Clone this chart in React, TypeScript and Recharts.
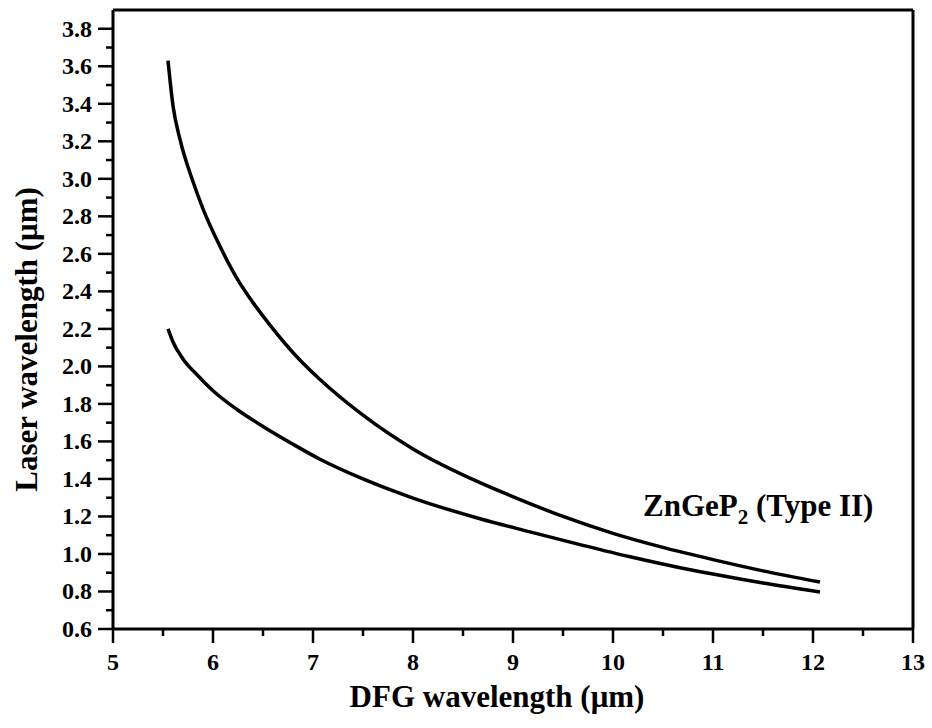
import React from "react";
import { LineChart, Line, XAxis, YAxis, ReferenceDot, ReferenceLine } from "recharts";

// upper curve (longer laser wavelength)
const upperDfg = [5.55, 5.6, 5.67, 5.79, 5.9, 6.07, 6.25, 6.4, 6.57, 6.84, 7.07, 7.5, 8.0, 8.67, 9.07, 9.5, 10.0, 10.5, 11.0, 11.5, 12.07];
const upperLaser = [3.63, 3.39, 3.21, 3.0, 2.84, 2.64, 2.46, 2.34, 2.22, 2.05, 1.93, 1.74, 1.56, 1.38, 1.29, 1.2, 1.11, 1.035, 0.97, 0.91, 0.85];

// lower curve
const lowerDfg = [5.55, 5.6, 5.7, 5.85, 6.0, 6.24, 6.5, 6.8, 7.07, 7.5, 8.0, 8.67, 9.17, 9.67, 10.17, 10.67, 11.0, 11.5, 12.07];
const lowerLaser = [2.2, 2.13, 2.04, 1.95, 1.87, 1.77, 1.68, 1.585, 1.505, 1.4, 1.298, 1.188, 1.118, 1.05, 0.985, 0.927, 0.893, 0.845, 0.797];

const xTicks = [5, 5.5, 6, 6.5, 7, 7.5, 8, 8.5, 9, 9.5, 10, 10.5, 11, 11.5, 12, 12.5, 13];
const xMajor = [5, 6, 7, 8, 9, 10, 11, 12, 13];
const yTicks = [0.6, 0.7, 0.8, 0.9, 1.0, 1.1, 1.2, 1.3, 1.4, 1.5, 1.6, 1.7, 1.8, 1.9, 2.0, 2.1, 2.2, 2.3, 2.4, 2.5, 2.6, 2.7, 2.8, 2.9, 3.0, 3.1, 3.2, 3.3, 3.4, 3.5, 3.6, 3.7, 3.8];
const yMajor = [0.6, 0.8, 1.0, 1.2, 1.4, 1.6, 1.8, 2.0, 2.2, 2.4, 2.6, 2.8, 3.0, 3.2, 3.4, 3.6, 3.8];

const upper = upperDfg.map((x, i) => ({ x, y: upperLaser[i] }));
const lower = lowerDfg.map((x, i) => ({ x, y: lowerLaser[i] }));

const font = "'Liberation Serif', 'DejaVu Serif', serif";
const isMajor = (list: number[], v: number) => list.some((m) => Math.abs(m - v) < 1e-6);

function XTick({ x, y, payload }: any) {
  const major = isMajor(xMajor, payload.value);
  return (
    <g>
      <line x1={x} x2={x} y1={y} y2={y + (major ? 14 : 7)} stroke="#000" strokeWidth={2.5} />
      {major && (
        <text x={x} y={y + 41} textAnchor="middle" fontFamily={font} fontWeight="bold" fontSize={24} fill="#000">
          {payload.value}
        </text>
      )}
    </g>
  );
}

function YTick({ x, y, payload }: any) {
  const major = isMajor(yMajor, payload.value);
  return (
    <g>
      <line x1={x - (major ? 15 : 7)} x2={x} y1={y} y2={y} stroke="#000" strokeWidth={2.5} />
      {major && (
        <text x={x - 21} y={y + 8} textAnchor="end" fontFamily={font} fontWeight="bold" fontSize={24} fill="#000">
          {payload.value.toFixed(1)}
        </text>
      )}
    </g>
  );
}

export default function App() {
  return (
    <div style={{ position: "absolute", left: 0, top: 0, background: "#fff" }}>
      <LineChart width={932} height={728} margin={{ top: 10, right: 19, left: 53, bottom: 39 }}>
        <XAxis
          dataKey="x"
          type="number"
          domain={[5, 13]}
          ticks={xTicks}
          interval={0}
          allowDataOverflow
          height={60}
          tickSize={0}
          tickMargin={0}
          tick={<XTick />}
          axisLine={{ stroke: "#000", strokeWidth: 3 }}
          label={{
            content: ({ viewBox }: any) => (
              <text
                x={viewBox.x + viewBox.width / 2 - 16}
                y={viewBox.y + 78}
                textAnchor="middle"
                fontFamily={font}
                fontWeight="bold"
                fontSize={31}
                fill="#000"
              >
                DFG wavelength (μm)
              </text>
            ),
          }}
        />
        <YAxis
          type="number"
          domain={[0.6, 3.9]}
          ticks={yTicks}
          interval={0}
          allowDataOverflow
          width={60}
          tickSize={0}
          tickMargin={0}
          tick={<YTick />}
          axisLine={{ stroke: "#000", strokeWidth: 3 }}
          label={{
            content: ({ viewBox }: any) => {
              const cx = viewBox.x - 16;
              const cy = viewBox.y + viewBox.height / 2 + 20;
              return (
                <text
                  x={cx}
                  y={cy}
                  transform={`rotate(-90 ${cx} ${cy})`}
                  textAnchor="middle"
                  fontFamily={font}
                  fontWeight="bold"
                  fontSize={31}
                  fill="#000"
                >
                  Laser wavelength (μm)
                </text>
              );
            },
          }}
        />
        {/* frame: top and right borders */}
        <ReferenceLine y={3.9} stroke="#000" strokeWidth={3} />
        <ReferenceLine x={13} stroke="#000" strokeWidth={3} />
        <Line data={upper} dataKey="y" type="monotone" stroke="#000" strokeWidth={3.5} dot={false} isAnimationActive={false} />
        <Line data={lower} dataKey="y" type="monotone" stroke="#000" strokeWidth={3.5} dot={false} isAnimationActive={false} />
        <ReferenceDot
          x={10.3}
          y={1.2}
          r={0}
          fill="none"
          stroke="none"
          shape={(p: any) => (
            <text x={p.cx} y={p.cy} fontFamily={font} fontWeight="bold" fontSize={31} fill="#000">
              ZnGeP
              <tspan dy={8} fontSize={21}>2</tspan>
              <tspan dy={-8}> (Type II)</tspan>
            </text>
          )}
        />
      </LineChart>
    </div>
  );
}
